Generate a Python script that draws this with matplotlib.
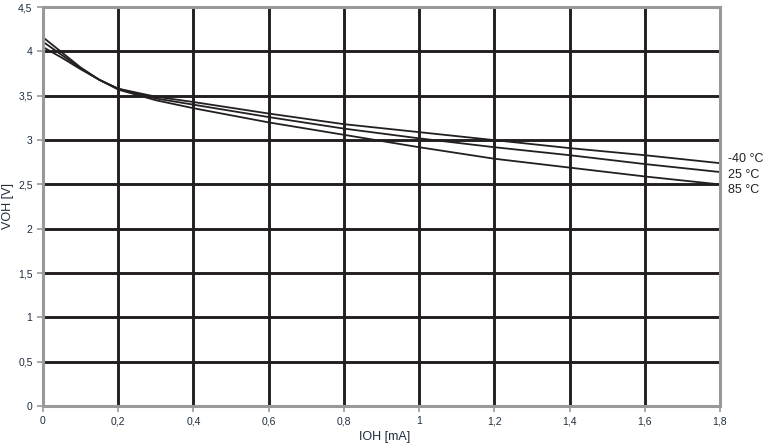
import matplotlib.pyplot as plt
from matplotlib.ticker import FuncFormatter

plt.rcParams['font.family'] = ['Liberation Sans', 'DejaVu Sans']

ioh = [0, 0.05, 0.1, 0.15, 0.2, 0.3, 0.4, 0.6, 0.8, 1.0, 1.2, 1.4, 1.6, 1.8]
voh_m40 = [4.05, 3.93, 3.80, 3.68, 3.58, 3.49, 3.43, 3.30, 3.18, 3.09, 3.00, 2.91, 2.83, 2.74]
voh_25 = [4.11, 3.96, 3.81, 3.68, 3.58, 3.47, 3.40, 3.26, 3.13, 3.02, 2.92, 2.83, 2.73, 2.64]
voh_85 = [4.16, 3.99, 3.82, 3.68, 3.57, 3.45, 3.36, 3.20, 3.06, 2.92, 2.79, 2.69, 2.59, 2.50]
labels = ["-40 °C", "25 °C", "85 °C"]

fig = plt.figure(figsize=(7.69, 4.48), dpi=100)
ax = fig.add_axes([0.0559, 0.0937, 0.8804, 0.8903])

gridc = "#231f20"
for xv in [0.2, 0.4, 0.6, 0.8, 1.0, 1.2, 1.4, 1.6]:
    ax.axvline(xv, color=gridc, lw=2.1, zorder=1)
for yv in [0.5, 1, 1.5, 2, 2.5, 3, 3.5, 4]:
    ax.axhline(yv, color=gridc, lw=2.1, zorder=1)

for ys in [voh_m40, voh_25, voh_85]:
    ax.plot(ioh, ys, color="#231f20", lw=1.3, zorder=3)

# labels stacked to the right of the plot, slightly spread apart
label_y = [2.79, 2.61, 2.44]
for ly, lab in zip(label_y, labels):
    ax.annotate(lab, xy=(1.8, ly), xytext=(6, 0), textcoords="offset points",
                va="center", ha="left", fontsize=9, color="#231f20", annotation_clip=False)

ax.set_xlim(0, 1.8)
ax.set_ylim(0, 4.5)
ax.set_xticks([0, 0.2, 0.4, 0.6, 0.8, 1.0, 1.2, 1.4, 1.6, 1.8])
ax.set_yticks([0, 0.5, 1, 1.5, 2, 2.5, 3, 3.5, 4, 4.5])
fmt = FuncFormatter(lambda v, p: ("%g" % round(v, 2)).replace(".", ","))
ax.xaxis.set_major_formatter(fmt)
ax.yaxis.set_major_formatter(fmt)

for s in ax.spines.values():
    s.set_color("#999999")
    s.set_linewidth(2.2)
    s.set_zorder(4)
ax.tick_params(axis="both", colors="#999999", labelcolor="#1f2d3d", labelsize=7.5,
               length=4, width=1.2, direction="out")

fig.text(0.50, 0.024, "IOH [mA]", ha="center", va="center", fontsize=9, color="#1f2d3d")
fig.text(0.011, 0.54, "VOH [V]", ha="center", va="center", rotation=90, fontsize=9, color="#1f2d3d")

fig.savefig("out.png", dpi=100)
